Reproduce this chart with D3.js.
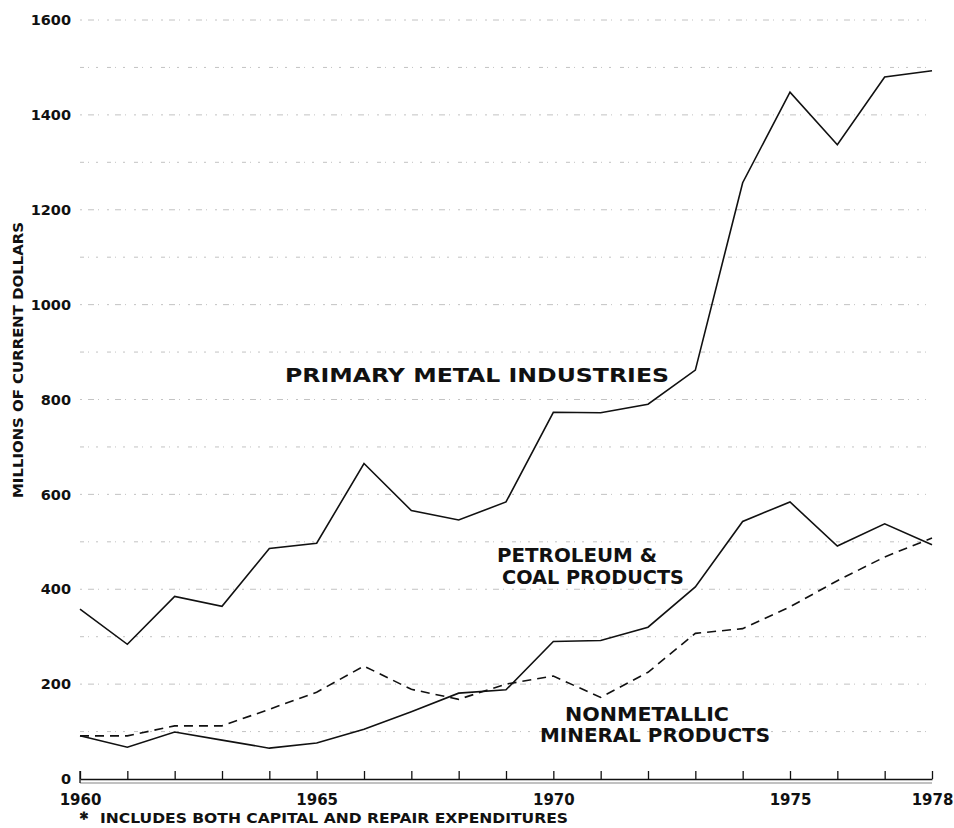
<!DOCTYPE html>
<html><head><meta charset="utf-8">
<script src="https://cdn.jsdelivr.net/npm/d3@7"></script>
<style>
body{margin:0;background:#fff;}
svg text{font-family:"DejaVu Sans",sans-serif;font-weight:bold;fill:#111;}
</style></head>
<body><svg id="c" width="954" height="828"></svg>
<script>
const years = [1960,1961,1962,1963,1964,1965,1966,1967,1968,1969,1970,1971,1972,1973,1974,1975,1976,1977,1978];
const primaryMetal = [358,284,385,364,486,497,665,566,546,584,773,772,790,862,1257,1448,1337,1480,1493];
const petroleumCoal = [91,67,99,82,65,76,105,142,181,188,290,292,320,405,543,584,491,538,494];
const nonmetallic = [91,91,112,112,147,183,238,189,168,200,217,172,225,307,317,363,418,468,508];
const yTicks = [0,200,400,600,800,1000,1200,1400,1600];
const gridValues = [100,200,300,400,500,600,700,800,900,1000,1100,1200,1300,1400,1500,1600];
const xLabelYears = [1960,1965,1970,1975,1978];

const svg = d3.select("#c");
const x = d3.scaleLinear().domain([1960,1978]).range([80,932]);
const y = d3.scaleLinear().domain([0,1600]).range([779,20]);

// gridlines
svg.append("g").selectAll("line").data(gridValues).join("line")
  .attr("x1",80).attr("x2",926)
  .attr("y1",d=>y(d)).attr("y2",d=>y(d))
  .attr("stroke","#888").attr("stroke-width",1)
  .attr("stroke-dasharray",(d,i)=> i%2 ? "2,6,6,4,1,8" : "4,4,1,7,2,9")
  .attr("opacity",0.5);

// y axis labels
const ya = svg.append("g").attr("transform","translate(80,0)")
  .call(d3.axisLeft(y).tickValues(yTicks).tickSize(0).tickPadding(9).tickFormat(d3.format("d")));
ya.select(".domain").remove();
ya.selectAll("text").style("font-size","14.5px").style("font-family","DejaVu Sans").style("font-weight","bold").attr("fill","#111");

// x axis
const xa = svg.append("g").attr("transform",`translate(0,${y(0)})`)
  .call(d3.axisBottom(x).tickValues(years).tickSize(-8).tickSizeOuter(0).tickPadding(15)
    .tickFormat(d=> xLabelYears.includes(d) ? String(d) : ""));
xa.select(".domain").attr("stroke","#111").attr("stroke-width",1.6);
xa.selectAll(".tick line").attr("stroke","#111").attr("stroke-width",1.3);
xa.selectAll("text").style("font-size","15px").style("font-family","DejaVu Sans").style("font-weight","bold").attr("fill","#111");
svg.append("line").attr("x1",x(1960)).attr("x2",x(1978)).attr("y1",y(0)+4).attr("y2",y(0)+4)
  .attr("stroke","#333").attr("stroke-width",1).attr("opacity",0.6);
svg.append("line").attr("x1",x(1960)).attr("x2",x(1960)).attr("y1",y(0)-8).attr("y2",y(0)+4)
  .attr("stroke","#111").attr("stroke-width",1.3);

// lines
const line = d3.line().x((d,i)=>x(years[i])).y(d=>y(d));
svg.append("path").datum(primaryMetal).attr("d",line).attr("fill","none").attr("stroke","#111").attr("stroke-width",1.6);
svg.append("path").datum(petroleumCoal).attr("d",line).attr("fill","none").attr("stroke","#111").attr("stroke-width",1.6);
svg.append("path").datum(nonmetallic).attr("d",line).attr("fill","none").attr("stroke","#111").attr("stroke-width",1.6)
  .attr("stroke-dasharray","9,6");

// series labels
function lab(t,xp,yp,size,w){
  svg.append("text").attr("x",xp).attr("y",yp).style("font-size",size+"px")
    .attr("textLength",w).attr("lengthAdjust","spacingAndGlyphs").text(t);
}
lab("PRIMARY METAL INDUSTRIES",285,382,20,384);
lab("PETROLEUM &",497,562,19,160);
lab("COAL PRODUCTS",502,584,19,182);
lab("NONMETALLIC",565,721,19,164);
lab("MINERAL PRODUCTS",540,742,19,230);

// y title
svg.append("text").attr("transform","translate(23,360) rotate(-90)")
  .attr("text-anchor","middle").style("font-size","14px")
  .attr("textLength",276).attr("lengthAdjust","spacingAndGlyphs")
  .text("MILLIONS OF CURRENT DOLLARS");

// footnote
svg.append("text").attr("x",80).attr("y",824).style("font-size","15px")
  .attr("stroke","#111").attr("stroke-width",0.8).text("*");
lab("INCLUDES BOTH CAPITAL AND REPAIR EXPENDITURES",100,823,14,468);
</script></body></html>
